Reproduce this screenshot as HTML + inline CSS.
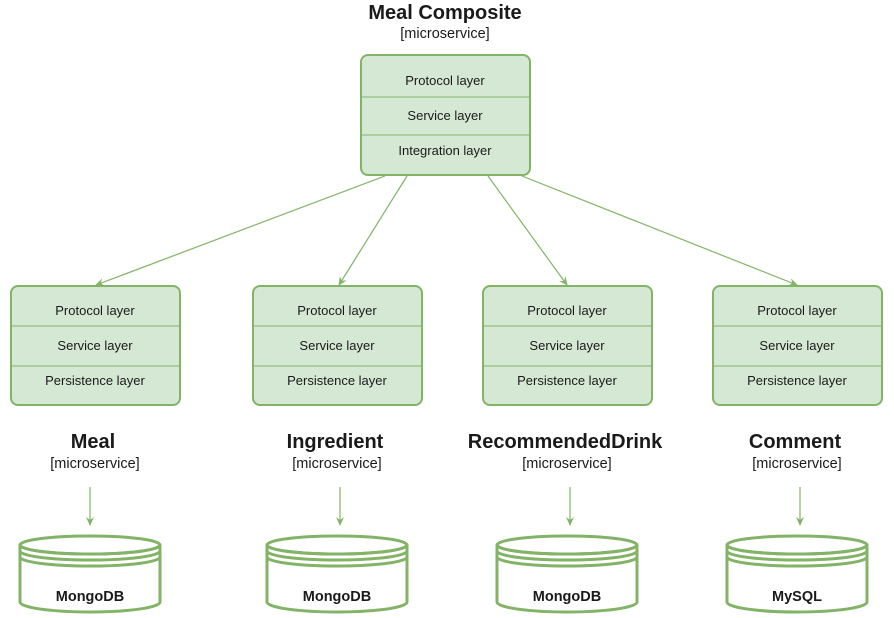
<!DOCTYPE html>
<html><head><style>body{margin:0;background:#fff}svg{display:block}text{font-family:"Liberation Sans",sans-serif;fill:#1a1a1a}</style></head><body>
<svg width="894" height="618" viewBox="0 0 894 618">
<defs><marker id="a" markerWidth="10" markerHeight="10" refX="8" refY="5" orient="auto" markerUnits="userSpaceOnUse"><path d="M0,1 L9,5 L0,9 L3,5 Z" fill="#82b366"/></marker></defs>
<text x="445" y="19" font-size="20" font-weight="bold" text-anchor="middle">Meal Composite</text>
<text x="445" y="38" font-size="14.5" text-anchor="middle">[microservice]</text>
<rect x="361" y="55" width="169" height="120" rx="7" fill="#d5e8d4" stroke="#82b366" stroke-width="2"/>
<line x1="361" y1="97" x2="530" y2="97" stroke="#82b366"/><line x1="361" y1="135" x2="530" y2="135" stroke="#82b366"/>
<text x="445" y="85" font-size="13" text-anchor="middle">Protocol layer</text>
<text x="445" y="120" font-size="13" text-anchor="middle">Service layer</text>
<text x="445" y="155" font-size="13" text-anchor="middle">Integration layer</text>
<g stroke="#82b366" stroke-width="1.2" marker-end="url(#a)">
<line x1="385" y1="176" x2="96" y2="285"/><line x1="407" y1="176" x2="339" y2="285"/>
<line x1="488" y1="176" x2="567" y2="285"/><line x1="522" y1="176" x2="797" y2="285"/>
<line x1="90" y1="487" x2="90" y2="525"/><line x1="340" y1="487" x2="340" y2="525"/>
<line x1="570" y1="487" x2="570" y2="525"/><line x1="800" y1="487" x2="800" y2="525"/>
</g>
<g font-size="13" text-anchor="middle">
<g transform="translate(11,0)"><rect x="0" y="286" width="169" height="119" rx="7" fill="#d5e8d4" stroke="#82b366" stroke-width="2"/><line x1="0" y1="326" x2="169" y2="326" stroke="#82b366"/><line x1="0" y1="366" x2="169" y2="366" stroke="#82b366"/><text x="84" y="315">Protocol layer</text><text x="84" y="350">Service layer</text><text x="84" y="385">Persistence layer</text></g>
<g transform="translate(253,0)"><rect x="0" y="286" width="169" height="119" rx="7" fill="#d5e8d4" stroke="#82b366" stroke-width="2"/><line x1="0" y1="326" x2="169" y2="326" stroke="#82b366"/><line x1="0" y1="366" x2="169" y2="366" stroke="#82b366"/><text x="84" y="315">Protocol layer</text><text x="84" y="350">Service layer</text><text x="84" y="385">Persistence layer</text></g>
<g transform="translate(483,0)"><rect x="0" y="286" width="169" height="119" rx="7" fill="#d5e8d4" stroke="#82b366" stroke-width="2"/><line x1="0" y1="326" x2="169" y2="326" stroke="#82b366"/><line x1="0" y1="366" x2="169" y2="366" stroke="#82b366"/><text x="84" y="315">Protocol layer</text><text x="84" y="350">Service layer</text><text x="84" y="385">Persistence layer</text></g>
<g transform="translate(713,0)"><rect x="0" y="286" width="169" height="119" rx="7" fill="#d5e8d4" stroke="#82b366" stroke-width="2"/><line x1="0" y1="326" x2="169" y2="326" stroke="#82b366"/><line x1="0" y1="366" x2="169" y2="366" stroke="#82b366"/><text x="84" y="315">Protocol layer</text><text x="84" y="350">Service layer</text><text x="84" y="385">Persistence layer</text></g>
</g>
<g text-anchor="middle">
<text x="93" y="448" font-size="20" font-weight="bold">Meal</text><text x="95" y="468" font-size="14.5">[microservice]</text>
<text x="335" y="448" font-size="20" font-weight="bold">Ingredient</text><text x="337" y="468" font-size="14.5">[microservice]</text>
<text x="565" y="448" font-size="20" font-weight="bold">RecommendedDrink</text><text x="567" y="468" font-size="14.5">[microservice]</text>
<text x="795" y="448" font-size="20" font-weight="bold">Comment</text><text x="797" y="468" font-size="14.5">[microservice]</text>
</g>
<g fill="#fff" stroke="#82b366" stroke-width="3">
<g transform="translate(90,0)"><path d="M-70,545 L-70,602 A70,10 0 0 0 70,602 L70,545"/><ellipse cx="0" cy="545" rx="70" ry="9"/><path d="M-70,545 A70,9 0 0 0 70,545 M-70,551 A70,9 0 0 0 70,551 M-70,557 A70,9 0 0 0 70,557" fill="none"/></g>
<g transform="translate(337,0)"><path d="M-70,545 L-70,602 A70,10 0 0 0 70,602 L70,545"/><ellipse cx="0" cy="545" rx="70" ry="9"/><path d="M-70,545 A70,9 0 0 0 70,545 M-70,551 A70,9 0 0 0 70,551 M-70,557 A70,9 0 0 0 70,557" fill="none"/></g>
<g transform="translate(567,0)"><path d="M-70,545 L-70,602 A70,10 0 0 0 70,602 L70,545"/><ellipse cx="0" cy="545" rx="70" ry="9"/><path d="M-70,545 A70,9 0 0 0 70,545 M-70,551 A70,9 0 0 0 70,551 M-70,557 A70,9 0 0 0 70,557" fill="none"/></g>
<g transform="translate(797,0)"><path d="M-70,545 L-70,602 A70,10 0 0 0 70,602 L70,545"/><ellipse cx="0" cy="545" rx="70" ry="9"/><path d="M-70,545 A70,9 0 0 0 70,545 M-70,551 A70,9 0 0 0 70,551 M-70,557 A70,9 0 0 0 70,557" fill="none"/></g>
</g>
<g font-size="14.5" font-weight="bold" text-anchor="middle">
<text x="90" y="601">MongoDB</text><text x="337" y="601">MongoDB</text><text x="567" y="601">MongoDB</text><text x="797" y="601">MySQL</text>
</g>
</svg>
</body></html>
